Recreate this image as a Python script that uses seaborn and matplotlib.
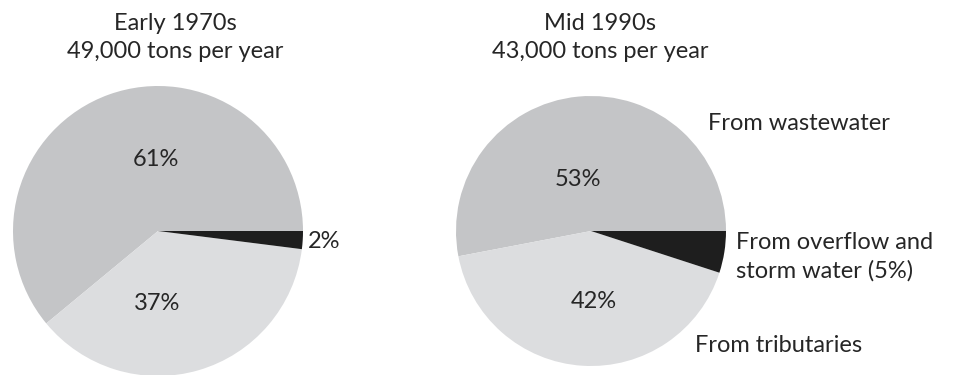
import matplotlib
matplotlib.use("Agg")
import matplotlib.pyplot as plt
import seaborn as sns

# Sources of the nutrient load, shares in percent
periods = ["Early 1970s", "Mid 1990s"]
totals = ["49,000 tons per year", "43,000 tons per year"]
sources = ["From wastewater", "From tributaries", "From overflow and\nstorm water"]
shares_1970s = [61, 37, 2]
shares_1990s = [53, 42, 5]

sns.set_theme(style="white")
plt.rcParams["font.family"] = ["Lato", "DejaVu Sans"]

W, H = 968, 375
colors = ["#c4c5c7", "#dcdddf", "#1e1e1e"]
text_color = "#262626"

fig = plt.figure(figsize=(W / 100, H / 100), dpi=100)
ax = fig.add_axes([0, 0, 1, 1])


def y(px):
    return H - px


def draw_pie(values, cx, cy, r):
    ax.pie(values, colors=colors, startangle=0, counterclock=True,
           center=(cx, y(cy)), radius=r, frame=True,
           wedgeprops=dict(linewidth=0))


draw_pie(shares_1970s, 158, 231, 145)
draw_pie(shares_1990s, 591, 231, 135)
ax.set_xlim(0, W)
ax.set_ylim(0, H)
ax.set_aspect("equal")
ax.axis("off")

fs = 17
kw = dict(color=text_color, fontsize=fs)

# titles
for cx, per, tot in [(175, periods[0], totals[0]), (600, periods[1], totals[1])]:
    ax.text(cx, y(23), per, ha="center", va="center", **kw)
    ax.text(cx, y(52), tot, ha="center", va="center", **kw)

# percentage labels, left pie
ax.text(156, y(159), f"{shares_1970s[0]}%", ha="center", va="center", **kw)
ax.text(157, y(303), f"{shares_1970s[1]}%", ha="center", va="center", **kw)
ax.text(308, y(242), f"{shares_1970s[2]}%", ha="left", va="center", **kw)

# percentage labels, right pie
ax.text(578, y(180), f"{shares_1990s[0]}%", ha="center", va="center", **kw)
ax.text(594, y(302), f"{shares_1990s[1]}%", ha="center", va="center", **kw)

# source labels
ax.text(708, y(123), sources[0], ha="left", va="center", **kw)
ax.text(736, y(257), f"{sources[2]} ({shares_1990s[2]}%)", ha="left",
        va="center", linespacing=1.4, **kw)
ax.text(695, y(345), sources[1], ha="left", va="center", **kw)

fig.savefig("out.png", dpi=100, facecolor="white")
